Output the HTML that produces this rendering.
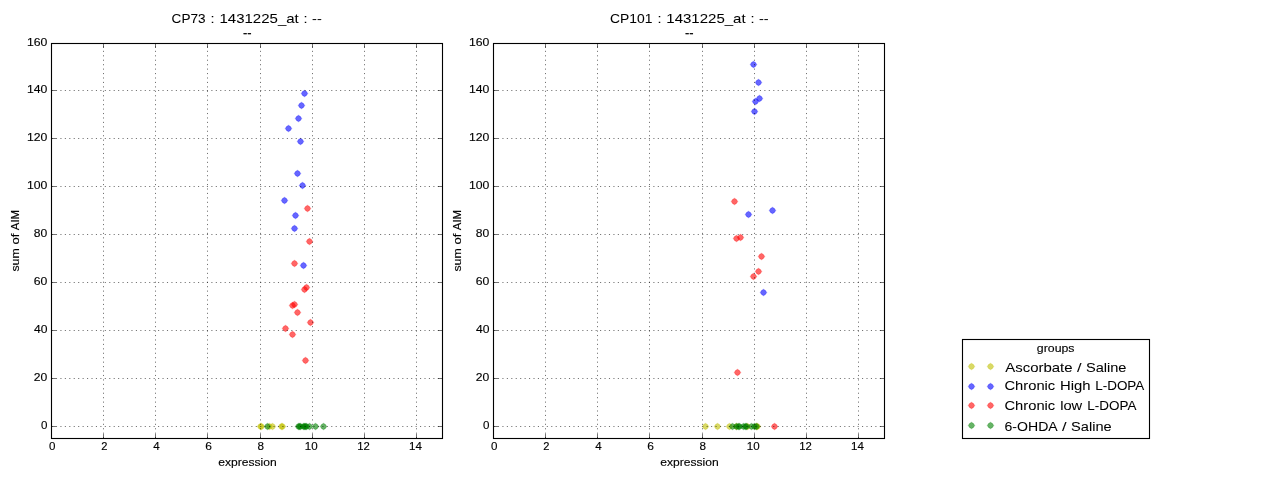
<!DOCTYPE html>
<html><head><meta charset="utf-8"><title>expression vs sum of AIM</title>
<style>html,body{margin:0;padding:0;background:#fff;overflow:hidden}svg{display:block}text{font-family:"Liberation Sans",sans-serif;fill:#000;stroke:#000;stroke-width:0.14px}text.b{stroke-width:0.06px}</style></head><body>
<svg width="1280" height="480" viewBox="0 0 1280 480">
<defs><filter id="gs" x="0" y="0" width="1280" height="480" filterUnits="userSpaceOnUse" color-interpolation-filters="sRGB"><feColorMatrix type="saturate" values="0"/></filter></defs>
<rect x="0" y="0" width="1280" height="480" fill="#fff"/>
<g fill-opacity="0.6" stroke-opacity="0.6" stroke-width="0.5" stroke-linejoin="round">
<polygon points="263.70,426.50 262.41,428.41 260.50,429.70 258.59,428.41 257.30,426.50 258.59,424.59 260.50,423.30 262.41,424.59" fill="#bfbf00" stroke="#bfbf00"/>
<polygon points="264.70,426.50 263.41,428.41 261.50,429.70 259.59,428.41 258.30,426.50 259.59,424.59 261.50,423.30 263.41,424.59" fill="#bfbf00" stroke="#bfbf00"/>
<polygon points="272.70,426.50 271.41,428.41 269.50,429.70 267.59,428.41 266.30,426.50 267.59,424.59 269.50,423.30 271.41,424.59" fill="#bfbf00" stroke="#bfbf00"/>
<polygon points="275.70,426.50 274.41,428.41 272.50,429.70 270.59,428.41 269.30,426.50 270.59,424.59 272.50,423.30 274.41,424.59" fill="#bfbf00" stroke="#bfbf00"/>
<polygon points="284.70,426.50 283.41,428.41 281.50,429.70 279.59,428.41 278.30,426.50 279.59,424.59 281.50,423.30 283.41,424.59" fill="#bfbf00" stroke="#bfbf00"/>
<polygon points="285.70,426.50 284.41,428.41 282.50,429.70 280.59,428.41 279.30,426.50 280.59,424.59 282.50,423.30 284.41,424.59" fill="#bfbf00" stroke="#bfbf00"/>
<polygon points="307.70,93.50 306.41,95.41 304.50,96.70 302.59,95.41 301.30,93.50 302.59,91.59 304.50,90.30 306.41,91.59" fill="#0000ff" stroke="#0000ff"/>
<polygon points="304.70,105.50 303.41,107.41 301.50,108.70 299.59,107.41 298.30,105.50 299.59,103.59 301.50,102.30 303.41,103.59" fill="#0000ff" stroke="#0000ff"/>
<polygon points="301.70,118.50 300.41,120.41 298.50,121.70 296.59,120.41 295.30,118.50 296.59,116.59 298.50,115.30 300.41,116.59" fill="#0000ff" stroke="#0000ff"/>
<polygon points="291.70,128.50 290.41,130.41 288.50,131.70 286.59,130.41 285.30,128.50 286.59,126.59 288.50,125.30 290.41,126.59" fill="#0000ff" stroke="#0000ff"/>
<polygon points="303.70,141.50 302.41,143.41 300.50,144.70 298.59,143.41 297.30,141.50 298.59,139.59 300.50,138.30 302.41,139.59" fill="#0000ff" stroke="#0000ff"/>
<polygon points="300.70,173.50 299.41,175.41 297.50,176.70 295.59,175.41 294.30,173.50 295.59,171.59 297.50,170.30 299.41,171.59" fill="#0000ff" stroke="#0000ff"/>
<polygon points="305.70,185.50 304.41,187.41 302.50,188.70 300.59,187.41 299.30,185.50 300.59,183.59 302.50,182.30 304.41,183.59" fill="#0000ff" stroke="#0000ff"/>
<polygon points="287.70,200.50 286.41,202.41 284.50,203.70 282.59,202.41 281.30,200.50 282.59,198.59 284.50,197.30 286.41,198.59" fill="#0000ff" stroke="#0000ff"/>
<polygon points="298.70,215.50 297.41,217.41 295.50,218.70 293.59,217.41 292.30,215.50 293.59,213.59 295.50,212.30 297.41,213.59" fill="#0000ff" stroke="#0000ff"/>
<polygon points="297.70,228.50 296.41,230.41 294.50,231.70 292.59,230.41 291.30,228.50 292.59,226.59 294.50,225.30 296.41,226.59" fill="#0000ff" stroke="#0000ff"/>
<polygon points="306.70,265.50 305.41,267.41 303.50,268.70 301.59,267.41 300.30,265.50 301.59,263.59 303.50,262.30 305.41,263.59" fill="#0000ff" stroke="#0000ff"/>
<polygon points="310.70,208.50 309.41,210.41 307.50,211.70 305.59,210.41 304.30,208.50 305.59,206.59 307.50,205.30 309.41,206.59" fill="#ff0000" stroke="#ff0000"/>
<polygon points="312.70,241.50 311.41,243.41 309.50,244.70 307.59,243.41 306.30,241.50 307.59,239.59 309.50,238.30 311.41,239.59" fill="#ff0000" stroke="#ff0000"/>
<polygon points="297.70,263.50 296.41,265.41 294.50,266.70 292.59,265.41 291.30,263.50 292.59,261.59 294.50,260.30 296.41,261.59" fill="#ff0000" stroke="#ff0000"/>
<polygon points="309.70,287.50 308.41,289.41 306.50,290.70 304.59,289.41 303.30,287.50 304.59,285.59 306.50,284.30 308.41,285.59" fill="#ff0000" stroke="#ff0000"/>
<polygon points="307.70,289.50 306.41,291.41 304.50,292.70 302.59,291.41 301.30,289.50 302.59,287.59 304.50,286.30 306.41,287.59" fill="#ff0000" stroke="#ff0000"/>
<polygon points="297.70,304.50 296.41,306.41 294.50,307.70 292.59,306.41 291.30,304.50 292.59,302.59 294.50,301.30 296.41,302.59" fill="#ff0000" stroke="#ff0000"/>
<polygon points="295.70,305.50 294.41,307.41 292.50,308.70 290.59,307.41 289.30,305.50 290.59,303.59 292.50,302.30 294.41,303.59" fill="#ff0000" stroke="#ff0000"/>
<polygon points="300.70,312.50 299.41,314.41 297.50,315.70 295.59,314.41 294.30,312.50 295.59,310.59 297.50,309.30 299.41,310.59" fill="#ff0000" stroke="#ff0000"/>
<polygon points="313.70,322.50 312.41,324.41 310.50,325.70 308.59,324.41 307.30,322.50 308.59,320.59 310.50,319.30 312.41,320.59" fill="#ff0000" stroke="#ff0000"/>
<polygon points="288.70,328.50 287.41,330.41 285.50,331.70 283.59,330.41 282.30,328.50 283.59,326.59 285.50,325.30 287.41,326.59" fill="#ff0000" stroke="#ff0000"/>
<polygon points="295.70,334.50 294.41,336.41 292.50,337.70 290.59,336.41 289.30,334.50 290.59,332.59 292.50,331.30 294.41,332.59" fill="#ff0000" stroke="#ff0000"/>
<polygon points="308.70,360.50 307.41,362.41 305.50,363.70 303.59,362.41 302.30,360.50 303.59,358.59 305.50,357.30 307.41,358.59" fill="#ff0000" stroke="#ff0000"/>
<polygon points="270.70,426.50 269.41,428.41 267.50,429.70 265.59,428.41 264.30,426.50 265.59,424.59 267.50,423.30 269.41,424.59" fill="#008000" stroke="#008000"/>
<polygon points="301.70,426.50 300.41,428.41 298.50,429.70 296.59,428.41 295.30,426.50 296.59,424.59 298.50,423.30 300.41,424.59" fill="#008000" stroke="#008000"/>
<polygon points="302.70,426.50 301.41,428.41 299.50,429.70 297.59,428.41 296.30,426.50 297.59,424.59 299.50,423.30 301.41,424.59" fill="#008000" stroke="#008000"/>
<polygon points="303.70,426.50 302.41,428.41 300.50,429.70 298.59,428.41 297.30,426.50 298.59,424.59 300.50,423.30 302.41,424.59" fill="#008000" stroke="#008000"/>
<polygon points="306.70,426.50 305.41,428.41 303.50,429.70 301.59,428.41 300.30,426.50 301.59,424.59 303.50,423.30 305.41,424.59" fill="#008000" stroke="#008000"/>
<polygon points="307.70,426.50 306.41,428.41 304.50,429.70 302.59,428.41 301.30,426.50 302.59,424.59 304.50,423.30 306.41,424.59" fill="#008000" stroke="#008000"/>
<polygon points="308.70,426.50 307.41,428.41 305.50,429.70 303.59,428.41 302.30,426.50 303.59,424.59 305.50,423.30 307.41,424.59" fill="#008000" stroke="#008000"/>
<polygon points="309.70,426.50 308.41,428.41 306.50,429.70 304.59,428.41 303.30,426.50 304.59,424.59 306.50,423.30 308.41,424.59" fill="#008000" stroke="#008000"/>
<polygon points="312.70,426.50 311.41,428.41 309.50,429.70 307.59,428.41 306.30,426.50 307.59,424.59 309.50,423.30 311.41,424.59" fill="#008000" stroke="#008000"/>
<polygon points="318.70,426.50 317.41,428.41 315.50,429.70 313.59,428.41 312.30,426.50 313.59,424.59 315.50,423.30 317.41,424.59" fill="#008000" stroke="#008000"/>
<polygon points="326.70,426.50 325.41,428.41 323.50,429.70 321.59,428.41 320.30,426.50 321.59,424.59 323.50,423.30 325.41,424.59" fill="#008000" stroke="#008000"/>
</g>
<g stroke="#000" stroke-width="0.56" stroke-dasharray="1.11 3.33" fill="none">
<line x1="103.5" y1="438.2" x2="103.5" y2="43.5"/>
<line x1="155.5" y1="438.2" x2="155.5" y2="43.5"/>
<line x1="207.5" y1="438.2" x2="207.5" y2="43.5"/>
<line x1="260.5" y1="438.2" x2="260.5" y2="43.5"/>
<line x1="312.5" y1="438.2" x2="312.5" y2="43.5"/>
<line x1="364.5" y1="438.2" x2="364.5" y2="43.5"/>
<line x1="416.5" y1="438.2" x2="416.5" y2="43.5"/>
<line x1="51.5" y1="426.5" x2="442.5" y2="426.5"/>
<line x1="51.5" y1="378.5" x2="442.5" y2="378.5"/>
<line x1="51.5" y1="330.5" x2="442.5" y2="330.5"/>
<line x1="51.5" y1="282.5" x2="442.5" y2="282.5"/>
<line x1="51.5" y1="234.5" x2="442.5" y2="234.5"/>
<line x1="51.5" y1="186.5" x2="442.5" y2="186.5"/>
<line x1="51.5" y1="138.5" x2="442.5" y2="138.5"/>
<line x1="51.5" y1="90.5" x2="442.5" y2="90.5"/>
</g>
<g stroke="#000" stroke-width="0.56" fill="none">
<line x1="51.5" y1="438.5" x2="51.5" y2="434.06"/>
<line x1="51.5" y1="43.5" x2="51.5" y2="47.94"/>
<line x1="103.5" y1="438.5" x2="103.5" y2="434.06"/>
<line x1="103.5" y1="43.5" x2="103.5" y2="47.94"/>
<line x1="155.5" y1="438.5" x2="155.5" y2="434.06"/>
<line x1="155.5" y1="43.5" x2="155.5" y2="47.94"/>
<line x1="207.5" y1="438.5" x2="207.5" y2="434.06"/>
<line x1="207.5" y1="43.5" x2="207.5" y2="47.94"/>
<line x1="260.5" y1="438.5" x2="260.5" y2="434.06"/>
<line x1="260.5" y1="43.5" x2="260.5" y2="47.94"/>
<line x1="312.5" y1="438.5" x2="312.5" y2="434.06"/>
<line x1="312.5" y1="43.5" x2="312.5" y2="47.94"/>
<line x1="364.5" y1="438.5" x2="364.5" y2="434.06"/>
<line x1="364.5" y1="43.5" x2="364.5" y2="47.94"/>
<line x1="416.5" y1="438.5" x2="416.5" y2="434.06"/>
<line x1="416.5" y1="43.5" x2="416.5" y2="47.94"/>
<line x1="51.5" y1="426.5" x2="55.94" y2="426.5"/>
<line x1="442.5" y1="426.5" x2="438.06" y2="426.5"/>
<line x1="51.5" y1="378.5" x2="55.94" y2="378.5"/>
<line x1="442.5" y1="378.5" x2="438.06" y2="378.5"/>
<line x1="51.5" y1="330.5" x2="55.94" y2="330.5"/>
<line x1="442.5" y1="330.5" x2="438.06" y2="330.5"/>
<line x1="51.5" y1="282.5" x2="55.94" y2="282.5"/>
<line x1="442.5" y1="282.5" x2="438.06" y2="282.5"/>
<line x1="51.5" y1="234.5" x2="55.94" y2="234.5"/>
<line x1="442.5" y1="234.5" x2="438.06" y2="234.5"/>
<line x1="51.5" y1="186.5" x2="55.94" y2="186.5"/>
<line x1="442.5" y1="186.5" x2="438.06" y2="186.5"/>
<line x1="51.5" y1="138.5" x2="55.94" y2="138.5"/>
<line x1="442.5" y1="138.5" x2="438.06" y2="138.5"/>
<line x1="51.5" y1="90.5" x2="55.94" y2="90.5"/>
<line x1="442.5" y1="90.5" x2="438.06" y2="90.5"/>
<line x1="51.5" y1="43.5" x2="55.94" y2="43.5"/>
<line x1="442.5" y1="43.5" x2="438.06" y2="43.5"/>
</g>
<rect x="51.5" y="43.5" width="391.0" height="395.0" fill="none" stroke="#000" stroke-width="1.11"/>
<g fill-opacity="0.6" stroke-opacity="0.6" stroke-width="0.5" stroke-linejoin="round">
<polygon points="708.70,426.50 707.41,428.41 705.50,429.70 703.59,428.41 702.30,426.50 703.59,424.59 705.50,423.30 707.41,424.59" fill="#bfbf00" stroke="#bfbf00"/>
<polygon points="720.70,426.50 719.41,428.41 717.50,429.70 715.59,428.41 714.30,426.50 715.59,424.59 717.50,423.30 719.41,424.59" fill="#bfbf00" stroke="#bfbf00"/>
<polygon points="732.70,426.50 731.41,428.41 729.50,429.70 727.59,428.41 726.30,426.50 727.59,424.59 729.50,423.30 731.41,424.59" fill="#bfbf00" stroke="#bfbf00"/>
<polygon points="739.70,426.50 738.41,428.41 736.50,429.70 734.59,428.41 733.30,426.50 734.59,424.59 736.50,423.30 738.41,424.59" fill="#bfbf00" stroke="#bfbf00"/>
<polygon points="750.70,426.50 749.41,428.41 747.50,429.70 745.59,428.41 744.30,426.50 745.59,424.59 747.50,423.30 749.41,424.59" fill="#bfbf00" stroke="#bfbf00"/>
<polygon points="759.70,426.50 758.41,428.41 756.50,429.70 754.59,428.41 753.30,426.50 754.59,424.59 756.50,423.30 758.41,424.59" fill="#bfbf00" stroke="#bfbf00"/>
<polygon points="760.70,426.50 759.41,428.41 757.50,429.70 755.59,428.41 754.30,426.50 755.59,424.59 757.50,423.30 759.41,424.59" fill="#bfbf00" stroke="#bfbf00"/>
<polygon points="756.70,64.50 755.41,66.41 753.50,67.70 751.59,66.41 750.30,64.50 751.59,62.59 753.50,61.30 755.41,62.59" fill="#0000ff" stroke="#0000ff"/>
<polygon points="761.70,82.50 760.41,84.41 758.50,85.70 756.59,84.41 755.30,82.50 756.59,80.59 758.50,79.30 760.41,80.59" fill="#0000ff" stroke="#0000ff"/>
<polygon points="762.70,98.50 761.41,100.41 759.50,101.70 757.59,100.41 756.30,98.50 757.59,96.59 759.50,95.30 761.41,96.59" fill="#0000ff" stroke="#0000ff"/>
<polygon points="758.70,101.50 757.41,103.41 755.50,104.70 753.59,103.41 752.30,101.50 753.59,99.59 755.50,98.30 757.41,99.59" fill="#0000ff" stroke="#0000ff"/>
<polygon points="757.70,111.50 756.41,113.41 754.50,114.70 752.59,113.41 751.30,111.50 752.59,109.59 754.50,108.30 756.41,109.59" fill="#0000ff" stroke="#0000ff"/>
<polygon points="751.70,214.50 750.41,216.41 748.50,217.70 746.59,216.41 745.30,214.50 746.59,212.59 748.50,211.30 750.41,212.59" fill="#0000ff" stroke="#0000ff"/>
<polygon points="775.70,210.50 774.41,212.41 772.50,213.70 770.59,212.41 769.30,210.50 770.59,208.59 772.50,207.30 774.41,208.59" fill="#0000ff" stroke="#0000ff"/>
<polygon points="766.70,292.50 765.41,294.41 763.50,295.70 761.59,294.41 760.30,292.50 761.59,290.59 763.50,289.30 765.41,290.59" fill="#0000ff" stroke="#0000ff"/>
<polygon points="737.70,201.50 736.41,203.41 734.50,204.70 732.59,203.41 731.30,201.50 732.59,199.59 734.50,198.30 736.41,199.59" fill="#ff0000" stroke="#ff0000"/>
<polygon points="739.70,238.50 738.41,240.41 736.50,241.70 734.59,240.41 733.30,238.50 734.59,236.59 736.50,235.30 738.41,236.59" fill="#ff0000" stroke="#ff0000"/>
<polygon points="743.70,237.50 742.41,239.41 740.50,240.70 738.59,239.41 737.30,237.50 738.59,235.59 740.50,234.30 742.41,235.59" fill="#ff0000" stroke="#ff0000"/>
<polygon points="764.70,256.50 763.41,258.41 761.50,259.70 759.59,258.41 758.30,256.50 759.59,254.59 761.50,253.30 763.41,254.59" fill="#ff0000" stroke="#ff0000"/>
<polygon points="761.70,271.50 760.41,273.41 758.50,274.70 756.59,273.41 755.30,271.50 756.59,269.59 758.50,268.30 760.41,269.59" fill="#ff0000" stroke="#ff0000"/>
<polygon points="756.70,276.50 755.41,278.41 753.50,279.70 751.59,278.41 750.30,276.50 751.59,274.59 753.50,273.30 755.41,274.59" fill="#ff0000" stroke="#ff0000"/>
<polygon points="740.70,372.50 739.41,374.41 737.50,375.70 735.59,374.41 734.30,372.50 735.59,370.59 737.50,369.30 739.41,370.59" fill="#ff0000" stroke="#ff0000"/>
<polygon points="777.70,426.50 776.41,428.41 774.50,429.70 772.59,428.41 771.30,426.50 772.59,424.59 774.50,423.30 776.41,424.59" fill="#ff0000" stroke="#ff0000"/>
<polygon points="735.70,426.50 734.41,428.41 732.50,429.70 730.59,428.41 729.30,426.50 730.59,424.59 732.50,423.30 734.41,424.59" fill="#008000" stroke="#008000"/>
<polygon points="739.70,426.50 738.41,428.41 736.50,429.70 734.59,428.41 733.30,426.50 734.59,424.59 736.50,423.30 738.41,424.59" fill="#008000" stroke="#008000"/>
<polygon points="741.70,426.50 740.41,428.41 738.50,429.70 736.59,428.41 735.30,426.50 736.59,424.59 738.50,423.30 740.41,424.59" fill="#008000" stroke="#008000"/>
<polygon points="742.70,426.50 741.41,428.41 739.50,429.70 737.59,428.41 736.30,426.50 737.59,424.59 739.50,423.30 741.41,424.59" fill="#008000" stroke="#008000"/>
<polygon points="746.70,426.50 745.41,428.41 743.50,429.70 741.59,428.41 740.30,426.50 741.59,424.59 743.50,423.30 745.41,424.59" fill="#008000" stroke="#008000"/>
<polygon points="748.70,426.50 747.41,428.41 745.50,429.70 743.59,428.41 742.30,426.50 743.59,424.59 745.50,423.30 747.41,424.59" fill="#008000" stroke="#008000"/>
<polygon points="749.70,426.50 748.41,428.41 746.50,429.70 744.59,428.41 743.30,426.50 744.59,424.59 746.50,423.30 748.41,424.59" fill="#008000" stroke="#008000"/>
<polygon points="754.70,426.50 753.41,428.41 751.50,429.70 749.59,428.41 748.30,426.50 749.59,424.59 751.50,423.30 753.41,424.59" fill="#008000" stroke="#008000"/>
<polygon points="757.70,426.50 756.41,428.41 754.50,429.70 752.59,428.41 751.30,426.50 752.59,424.59 754.50,423.30 756.41,424.59" fill="#008000" stroke="#008000"/>
<polygon points="759.70,426.50 758.41,428.41 756.50,429.70 754.59,428.41 753.30,426.50 754.59,424.59 756.50,423.30 758.41,424.59" fill="#008000" stroke="#008000"/>
</g>
<g stroke="#000" stroke-width="0.56" stroke-dasharray="1.11 3.33" fill="none">
<line x1="545.5" y1="438.2" x2="545.5" y2="43.5"/>
<line x1="597.5" y1="438.2" x2="597.5" y2="43.5"/>
<line x1="649.5" y1="438.2" x2="649.5" y2="43.5"/>
<line x1="702.5" y1="438.2" x2="702.5" y2="43.5"/>
<line x1="754.5" y1="438.2" x2="754.5" y2="43.5"/>
<line x1="806.5" y1="438.2" x2="806.5" y2="43.5"/>
<line x1="858.5" y1="438.2" x2="858.5" y2="43.5"/>
<line x1="493.5" y1="426.5" x2="884.5" y2="426.5"/>
<line x1="493.5" y1="378.5" x2="884.5" y2="378.5"/>
<line x1="493.5" y1="330.5" x2="884.5" y2="330.5"/>
<line x1="493.5" y1="282.5" x2="884.5" y2="282.5"/>
<line x1="493.5" y1="234.5" x2="884.5" y2="234.5"/>
<line x1="493.5" y1="186.5" x2="884.5" y2="186.5"/>
<line x1="493.5" y1="138.5" x2="884.5" y2="138.5"/>
<line x1="493.5" y1="90.5" x2="884.5" y2="90.5"/>
</g>
<g stroke="#000" stroke-width="0.56" fill="none">
<line x1="493.5" y1="438.5" x2="493.5" y2="434.06"/>
<line x1="493.5" y1="43.5" x2="493.5" y2="47.94"/>
<line x1="545.5" y1="438.5" x2="545.5" y2="434.06"/>
<line x1="545.5" y1="43.5" x2="545.5" y2="47.94"/>
<line x1="597.5" y1="438.5" x2="597.5" y2="434.06"/>
<line x1="597.5" y1="43.5" x2="597.5" y2="47.94"/>
<line x1="649.5" y1="438.5" x2="649.5" y2="434.06"/>
<line x1="649.5" y1="43.5" x2="649.5" y2="47.94"/>
<line x1="702.5" y1="438.5" x2="702.5" y2="434.06"/>
<line x1="702.5" y1="43.5" x2="702.5" y2="47.94"/>
<line x1="754.5" y1="438.5" x2="754.5" y2="434.06"/>
<line x1="754.5" y1="43.5" x2="754.5" y2="47.94"/>
<line x1="806.5" y1="438.5" x2="806.5" y2="434.06"/>
<line x1="806.5" y1="43.5" x2="806.5" y2="47.94"/>
<line x1="858.5" y1="438.5" x2="858.5" y2="434.06"/>
<line x1="858.5" y1="43.5" x2="858.5" y2="47.94"/>
<line x1="493.5" y1="426.5" x2="497.94" y2="426.5"/>
<line x1="884.5" y1="426.5" x2="880.06" y2="426.5"/>
<line x1="493.5" y1="378.5" x2="497.94" y2="378.5"/>
<line x1="884.5" y1="378.5" x2="880.06" y2="378.5"/>
<line x1="493.5" y1="330.5" x2="497.94" y2="330.5"/>
<line x1="884.5" y1="330.5" x2="880.06" y2="330.5"/>
<line x1="493.5" y1="282.5" x2="497.94" y2="282.5"/>
<line x1="884.5" y1="282.5" x2="880.06" y2="282.5"/>
<line x1="493.5" y1="234.5" x2="497.94" y2="234.5"/>
<line x1="884.5" y1="234.5" x2="880.06" y2="234.5"/>
<line x1="493.5" y1="186.5" x2="497.94" y2="186.5"/>
<line x1="884.5" y1="186.5" x2="880.06" y2="186.5"/>
<line x1="493.5" y1="138.5" x2="497.94" y2="138.5"/>
<line x1="884.5" y1="138.5" x2="880.06" y2="138.5"/>
<line x1="493.5" y1="90.5" x2="497.94" y2="90.5"/>
<line x1="884.5" y1="90.5" x2="880.06" y2="90.5"/>
<line x1="493.5" y1="43.5" x2="497.94" y2="43.5"/>
<line x1="884.5" y1="43.5" x2="880.06" y2="43.5"/>
</g>
<rect x="493.5" y="43.5" width="391.0" height="395.0" fill="none" stroke="#000" stroke-width="1.11"/>
<g filter="url(#gs)">
<text class="b" transform="translate(171.62 22.90) scale(0.9942 1)" font-size="13.66">CP73</text>
<text class="b" transform="translate(210.58 22.90) scale(1.0622 1)" font-size="13.66">:</text>
<text class="b" transform="translate(219.45 22.90) scale(1.0997 1)" font-size="13.66">1431225_at</text>
<text class="b" transform="translate(303.53 22.90) scale(1.0622 1)" font-size="13.66">:</text>
<text class="b" transform="translate(312.07 22.90) scale(1.0614 1)" font-size="13.66">--</text>
<text class="b" transform="translate(609.94 22.90) scale(1.0161 1)" font-size="13.66">CP101</text>
<text class="b" transform="translate(657.45 22.90) scale(1.0622 1)" font-size="13.66">:</text>
<text class="b" transform="translate(666.31 22.90) scale(1.0997 1)" font-size="13.66">1431225_at</text>
<text class="b" transform="translate(750.40 22.90) scale(1.0622 1)" font-size="13.66">:</text>
<text class="b" transform="translate(758.94 22.90) scale(1.0614 1)" font-size="13.66">--</text>
<text transform="translate(242.93 36.90) scale(1.0136 1)" font-size="12.80">--</text>
<text transform="translate(684.98 36.90) scale(1.0136 1)" font-size="12.80">--</text>
<text transform="translate(40.91 429.00) scale(1.0252 1)" font-size="11.30">0</text>
<text transform="translate(33.84 381.00) scale(1.0770 1)" font-size="11.30">20</text>
<text transform="translate(33.90 333.00) scale(1.0716 1)" font-size="11.30">40</text>
<text transform="translate(33.79 285.00) scale(1.0808 1)" font-size="11.30">60</text>
<text transform="translate(33.86 237.00) scale(1.0750 1)" font-size="11.30">80</text>
<text transform="translate(26.93 189.00) scale(1.0848 1)" font-size="11.30">100</text>
<text transform="translate(26.93 141.00) scale(1.0848 1)" font-size="11.30">120</text>
<text transform="translate(26.93 93.00) scale(1.0848 1)" font-size="11.30">140</text>
<text transform="translate(26.93 46.00) scale(1.0848 1)" font-size="11.30">160</text>
<text transform="translate(49.08 450.00) scale(1.0252 1)" font-size="11.30">0</text>
<text transform="translate(101.29 450.00) scale(0.9882 1)" font-size="11.30">2</text>
<text transform="translate(153.31 450.00) scale(1.0254 1)" font-size="11.30">4</text>
<text transform="translate(205.22 450.00) scale(1.0611 1)" font-size="11.30">6</text>
<text transform="translate(257.44 450.00) scale(1.0363 1)" font-size="11.30">8</text>
<text transform="translate(304.83 450.00) scale(1.0225 1)" font-size="11.30">10</text>
<text transform="translate(357.15 450.00) scale(1.0024 1)" font-size="11.30">12</text>
<text transform="translate(409.04 450.00) scale(1.0221 1)" font-size="11.30">14</text>
<text transform="translate(482.91 429.00) scale(1.0252 1)" font-size="11.30">0</text>
<text transform="translate(475.84 381.00) scale(1.0770 1)" font-size="11.30">20</text>
<text transform="translate(475.90 333.00) scale(1.0716 1)" font-size="11.30">40</text>
<text transform="translate(475.79 285.00) scale(1.0808 1)" font-size="11.30">60</text>
<text transform="translate(475.86 237.00) scale(1.0750 1)" font-size="11.30">80</text>
<text transform="translate(468.93 189.00) scale(1.0848 1)" font-size="11.30">100</text>
<text transform="translate(468.93 141.00) scale(1.0848 1)" font-size="11.30">120</text>
<text transform="translate(468.93 93.00) scale(1.0848 1)" font-size="11.30">140</text>
<text transform="translate(468.93 46.00) scale(1.0848 1)" font-size="11.30">160</text>
<text transform="translate(491.08 450.00) scale(1.0252 1)" font-size="11.30">0</text>
<text transform="translate(543.29 450.00) scale(0.9882 1)" font-size="11.30">2</text>
<text transform="translate(595.31 450.00) scale(1.0254 1)" font-size="11.30">4</text>
<text transform="translate(647.22 450.00) scale(1.0611 1)" font-size="11.30">6</text>
<text transform="translate(699.44 450.00) scale(1.0363 1)" font-size="11.30">8</text>
<text transform="translate(746.83 450.00) scale(1.0225 1)" font-size="11.30">10</text>
<text transform="translate(799.15 450.00) scale(1.0024 1)" font-size="11.30">12</text>
<text transform="translate(851.04 450.00) scale(1.0221 1)" font-size="11.30">14</text>
<text transform="translate(218.31 465.80) scale(1.0697 1)" font-size="11.30">expression</text>
<text transform="translate(660.31 465.80) scale(1.0697 1)" font-size="11.30">expression</text>
<text transform="translate(19.20 271.55) rotate(-90) scale(1.0935 1)" font-size="11.30">sum</text>
<text transform="translate(19.20 244.46) rotate(-90) scale(1.1537 1)" font-size="11.30">of</text>
<text transform="translate(19.20 230.17) rotate(-90) scale(1.0115 1)" font-size="11.30">AIM</text>
<text transform="translate(461.20 271.55) rotate(-90) scale(1.0935 1)" font-size="11.30">sum</text>
<text transform="translate(461.20 244.46) rotate(-90) scale(1.1537 1)" font-size="11.30">of</text>
<text transform="translate(461.20 230.17) rotate(-90) scale(1.0115 1)" font-size="11.30">AIM</text>
</g>
<rect x="962.5" y="339.5" width="187" height="99" fill="#fff" stroke="#000" stroke-width="1.11"/>
<g fill-opacity="0.6" stroke-opacity="0.6" stroke-width="0.5" stroke-linejoin="round">
<polygon points="974.70,366.50 973.41,368.41 971.50,369.70 969.59,368.41 968.30,366.50 969.59,364.59 971.50,363.30 973.41,364.59" fill="#bfbf00" stroke="#bfbf00"/>
<polygon points="993.70,366.50 992.41,368.41 990.50,369.70 988.59,368.41 987.30,366.50 988.59,364.59 990.50,363.30 992.41,364.59" fill="#bfbf00" stroke="#bfbf00"/>
<polygon points="974.70,386.50 973.41,388.41 971.50,389.70 969.59,388.41 968.30,386.50 969.59,384.59 971.50,383.30 973.41,384.59" fill="#0000ff" stroke="#0000ff"/>
<polygon points="993.70,386.50 992.41,388.41 990.50,389.70 988.59,388.41 987.30,386.50 988.59,384.59 990.50,383.30 992.41,384.59" fill="#0000ff" stroke="#0000ff"/>
<polygon points="974.70,405.50 973.41,407.41 971.50,408.70 969.59,407.41 968.30,405.50 969.59,403.59 971.50,402.30 973.41,403.59" fill="#ff0000" stroke="#ff0000"/>
<polygon points="993.70,405.50 992.41,407.41 990.50,408.70 988.59,407.41 987.30,405.50 988.59,403.59 990.50,402.30 992.41,403.59" fill="#ff0000" stroke="#ff0000"/>
<polygon points="974.70,425.50 973.41,427.41 971.50,428.70 969.59,427.41 968.30,425.50 969.59,423.59 971.50,422.30 973.41,423.59" fill="#008000" stroke="#008000"/>
<polygon points="993.70,425.50 992.41,427.41 990.50,428.70 988.59,427.41 987.30,425.50 988.59,423.59 990.50,422.30 992.41,423.59" fill="#008000" stroke="#008000"/>
</g>
<g filter="url(#gs)">
<text transform="translate(1036.86 351.75) scale(1.0913 1)" font-size="11.30">groups</text>
<text class="b" transform="translate(1005.22 372.00) scale(1.0953 1)" font-size="13.66">Ascorbate</text>
<text class="b" transform="translate(1076.90 372.00) scale(1.1905 1)" font-size="13.66">/</text>
<text class="b" transform="translate(1085.90 372.00) scale(1.0704 1)" font-size="13.66">Saline</text>
<text class="b" transform="translate(1004.50 390.10) scale(1.0777 1)" font-size="13.66">Chronic</text>
<text class="b" transform="translate(1060.04 390.10) scale(1.0874 1)" font-size="13.66">High</text>
<text class="b" transform="translate(1095.23 390.10) scale(0.9862 1)" font-size="13.66">L-DOPA</text>
<text class="b" transform="translate(1004.50 409.80) scale(1.0777 1)" font-size="13.66">Chronic</text>
<text class="b" transform="translate(1060.21 409.80) scale(1.0745 1)" font-size="13.66">low</text>
<text class="b" transform="translate(1087.31 409.80) scale(0.9862 1)" font-size="13.66">L-DOPA</text>
<text class="b" transform="translate(1004.53 430.70) scale(1.0308 1)" font-size="13.66">6-OHDA</text>
<text class="b" transform="translate(1062.09 430.70) scale(1.1905 1)" font-size="13.66">/</text>
<text class="b" transform="translate(1071.09 430.70) scale(1.0704 1)" font-size="13.66">Saline</text>
</g>
</svg></body></html>
